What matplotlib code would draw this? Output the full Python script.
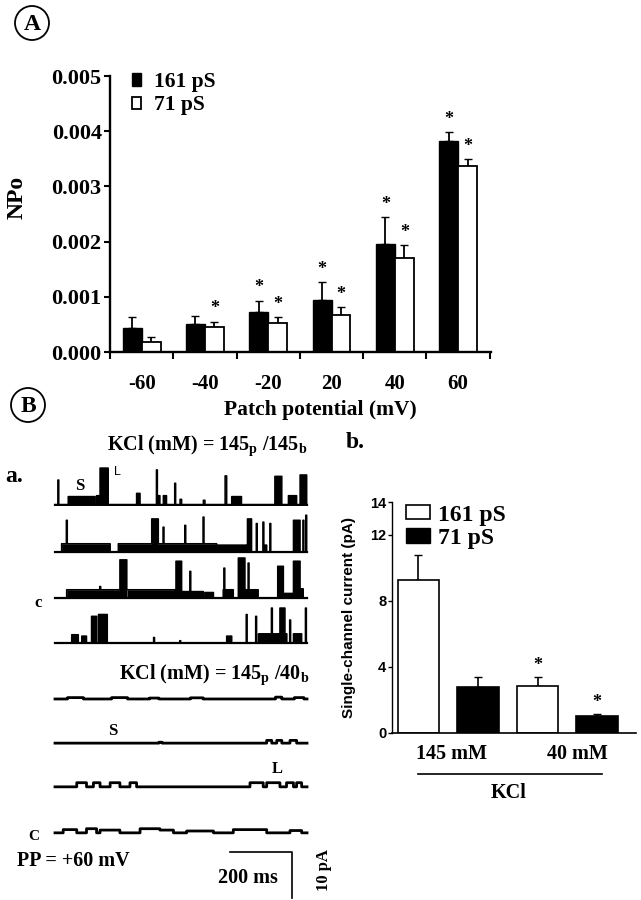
import numpy as np
import matplotlib
matplotlib.use('Agg')
import matplotlib.pyplot as plt

plt.rcParams['font.family'] = ['Liberation Serif', 'DejaVu Serif']
plt.rcParams['font.weight'] = 'bold'
plt.rcParams['mathtext.fontset'] = 'custom'
plt.rcParams['mathtext.rm'] = 'Liberation Serif:bold'
plt.rcParams['mathtext.it'] = 'Liberation Serif:bold'
plt.rcParams['mathtext.bf'] = 'Liberation Serif:bold'

# ---- panel A: NPo vs patch potential
potentials = ['-60', '-40', '-20', '20', '40', '60']
npo_161 = [0.00043, 0.00050, 0.00073, 0.00095, 0.00196, 0.00383]
err_161 = [0.00021, 0.00016, 0.00020, 0.00031, 0.00048, 0.00016]
npo_71 = [0.000175, 0.00045, 0.00053, 0.00067, 0.00171, 0.00337]
err_71 = [0.00010, 0.00010, 0.00010, 0.00014, 0.00023, 0.00012]
star_161 = [False, False, True, True, True, True]
star_71 = [False, True, True, True, True, True]

# ---- panel B b: single-channel current
kcl_groups = ['145 mM', '40 mM']
cur_161 = [9.28, 2.84]
cur_161_err = [1.52, 0.58]
cur_71 = [2.79, 1.02]
cur_71_err = [0.63, 0.14]

# ---- panel B a: single-channel records (ms, ms, pA)
# brief openings drawn as lines, dense flickery bursts drawn filled
t1_open = [(9, 12, 5.4), (322, 325, 7.6), (380, 383, 4.7), (397, 402, 1.2), (471, 476, 1.0), (540, 545, 6.3)]
t1_burst = [(42, 127, 1.8), (132, 143, 2.0), (143, 169, 8.0), (259, 270, 2.5), (323, 333, 2.0), (344, 354, 2.0),
            (561, 592, 1.8), (698, 720, 6.2), (741, 767, 2.0), (778, 799, 6.5)]
t2_open = [(36, 39, 6.9), (343, 346, 5.4), (412, 415, 5.8), (470, 473, 7.6), (639, 642, 6.2), (660, 663, 6.5),
           (682, 685, 6.2), (787, 790, 6.9), (796, 799, 8.0)]
t2_burst = [(21, 175, 1.8), (201, 513, 1.8), (307, 328, 7.2), (513, 608, 1.5), (611, 624, 7.2), (661, 672, 1.5),
            (757, 778, 6.9)]
t3_open = [(142, 145, 2.5), (428, 431, 5.8), (536, 539, 6.5), (613, 616, 7.6)]
t3_burst = [(37, 206, 1.8), (206, 228, 8.3), (228, 381, 1.8), (384, 402, 8.0), (402, 471, 1.4), (476, 503, 1.2),
            (534, 566, 1.8), (582, 603, 8.7), (603, 645, 1.8), (707, 725, 6.9), (725, 757, 1.0), (757, 778, 8.0),
            (778, 788, 2.0)]
t4_open = [(313, 316, 1.2), (396, 399, 0.5), (607, 610, 6.2), (637, 640, 5.8), (687, 690, 7.6), (745, 748, 5.0),
           (795, 798, 7.6)]
t4_burst = [(53, 74, 1.8), (85, 100, 1.5), (116, 132, 5.8), (138, 166, 6.2), (545, 561, 1.5), (646, 736, 2.0),
            (714, 730, 7.6), (757, 783, 2.0)]
t5_open = [(40, 90, 0.3), (180, 230, 0.3), (300, 330, 0.2), (430, 470, 0.25), (700, 720, 0.4), (760, 790, 0.3)]
t6_open = [(330, 340, 0.2), (672, 688, 0.6), (704, 720, 0.6), (746, 767, 0.6)]
t7_open = [(69, 100, 0.9), (122, 143, 0.9), (175, 206, 0.9), (238, 259, 0.9), (619, 661, 0.9), (672, 714, 0.9),
           (735, 757, 0.9), (767, 783, 0.9)]
t8_open = [(26, 69, 0.7), (100, 132, 0.9), (143, 206, 0.6), (270, 333, 0.9), (333, 376, 0.6), (418, 503, 0.4),
           (566, 672, 0.7), (746, 783, 0.5)]

W, H = 641, 900
fig = plt.figure(figsize=(W / 100, H / 100), dpi=100)


def rect(l, t, r, b):
    return [l / W, 1 - b / H, (r - l) / W, (b - t) / H]


def ft(x, y, s, **kw):
    kw.setdefault('ha', 'center')
    kw.setdefault('va', 'center')
    return fig.text(x / W, 1 - y / H, s, **kw)


# ================= A
axA = fig.add_axes(rect(110, 76, 491, 352))
x = np.arange(len(potentials)) + 0.5
bw = 0.3
axA.bar(x - 0.15, npo_161, bw, color='k', edgecolor='k', lw=1, label='161 pS', zorder=2)
axA.bar(x + 0.15, npo_71, bw, color='w', edgecolor='k', lw=1.3, label='71 pS', zorder=2)
axA.errorbar(x - 0.15, npo_161, yerr=[np.zeros(6), err_161], fmt='none', ecolor='k', elinewidth=1.3, capsize=3, zorder=1)
axA.errorbar(x + 0.15, npo_71, yerr=[np.zeros(6), err_71], fmt='none', ecolor='k', elinewidth=1.3, capsize=3, zorder=1)
for i in range(6):
    if star_161[i]:
        axA.annotate('*', (x[i] - 0.15, npo_161[i] + err_161[i]), xytext=(0, 3), textcoords='offset points',
                     ha='center', va='bottom', fontsize=13)
    if star_71[i]:
        axA.annotate('*', (x[i] + 0.15, npo_71[i] + err_71[i]), xytext=(0, 3), textcoords='offset points',
                     ha='center', va='bottom', fontsize=13)
axA.set_xlim(0, 6.02)
axA.set_ylim(0, 0.005)
axA.set_yticks([0, 0.001, 0.002, 0.003, 0.004, 0.005])
axA.set_yticklabels(['0.000', '0.001', '0.002', '0.003', '0.004', '0.005'])
axA.set_xticks(np.arange(7))
axA.set_xticklabels([])
axA.set_xticks(x, minor=True)
axA.set_xticklabels(potentials, minor=True)
axA.tick_params(axis='x', which='major', direction='out', length=5, width=1.5)
axA.tick_params(axis='x', which='minor', length=0, pad=16, labelsize=15)
axA.tick_params(axis='y', direction='out', length=4, width=1.5, labelsize=16, pad=2)
for s in ['top', 'right']:
    axA.spines[s].set_visible(False)
for s in ['left', 'bottom']:
    axA.spines[s].set_linewidth(1.7)
axA.legend(loc='upper left', bbox_to_anchor=(0.035, 1.045), frameon=False, fontsize=15.5,
           handlelength=0.42, handleheight=0.5, handletextpad=0.6, labelspacing=0.15, borderaxespad=0)
ft(320, 410, 'Patch potential (mV)', fontsize=15.5)
ft(17, 197, 'NPo', fontsize=17, rotation=90)

# circled panel letters
for cx, cy, lab in [(32, 23, 'A'), (28, 405, 'B')]:
    fig.patches.append(matplotlib.patches.Ellipse((cx / W, 1 - cy / H), 34 / W, 34 / H, fill=False,
                                                  lw=1.3, ec='k', transform=fig.transFigure))
    ft(cx, cy + 1, lab, fontsize=17)

# ================= B a (records)
axT = fig.add_axes(rect(0, 440, 330, 900))
axT.set_xlim(-174.6, 873)
axT.set_ylim(0, 100)
axT.axis('off')
t = np.arange(0, 800.5, 0.5)


def level(events):
    y = np.zeros_like(t)
    for a, b, amp in events:
        m = (t >= a) & (t < b)
        y[m] = np.maximum(y[m], amp)
    return y


top_rows = [(85.9, t1_open, t1_burst), (75.65, t2_open, t2_burst), (65.65, t3_open, t3_burst), (55.87, t4_open, t4_burst)]
for base, op, bu in top_rows:
    y = level(op + bu)
    axT.plot(t, base + y, color='k', lw=1.1, drawstyle='steps-post')
    for a, b, amp in bu:
        m = (t >= a) & (t <= b)
        axT.fill_between(t, base, base + amp, where=m, color='k', lw=0, step='post')
    axT.plot(t, np.full_like(t, base), color='k', lw=1.6)

for base, op in [(43.7, t5_open), (34.1, t6_open), (24.6, t7_open), (14.6, t8_open)]:
    axT.plot(t, base + level(op), color='k', lw=2.0, drawstyle='steps-post')

# scale bar 200 ms / 10 pA
axT.plot([556, 752, 752], [10.4, 10.4, 0.4], color='k', lw=1.2)

ft(14, 477, 'a.', fontsize=17)
ft(207, 446, r'KCl (mM) = 145$_\mathrm{p}$ /145$_\mathrm{b}$', fontsize=14.5)
ft(80, 486, 'S', fontsize=12)
ft(117, 472, 'L', fontsize=9, weight='normal', family=['Liberation Sans'])
ft(38, 603, 'c', fontsize=12)
ft(214, 675, r'KCl (mM) = 145$_\mathrm{p}$ /40$_\mathrm{b}$', fontsize=14.5)
ft(113, 731, 'S', fontsize=12)
ft(277, 769, 'L', fontsize=12)
ft(34, 837, 'C', fontsize=11)
ft(73, 861, 'PP = +60 mV', fontsize=14.5)
ft(248, 878, '200 ms', fontsize=14.5)
ft(324, 870, '10 pA', fontsize=12, rotation=90)

# ================= B b (current bars)
axB = fig.add_axes(rect(392, 502, 636, 733))
xb = np.arange(4)
vals = [cur_161[0], cur_71[0], cur_161[1], cur_71[1]]
errs = [cur_161_err[0], cur_71_err[0], cur_161_err[1], cur_71_err[1]]
cols = ['w', 'k', 'w', 'k']
axB.bar(xb, vals, 0.69, color=cols, edgecolor='k', lw=1.2, zorder=2)
axB.errorbar(xb, vals, yerr=[np.zeros(4), errs], fmt='none', ecolor='k', elinewidth=1.2, capsize=3, zorder=1)
for i in [2, 3]:
    axB.annotate('*', (xb[i], vals[i] + errs[i]), xytext=(0, 2), textcoords='offset points',
                 ha='center', va='bottom', fontsize=13)
axB.set_xlim(-0.445, 3.655)
axB.set_ylim(0, 14)
axB.set_yticks([0, 4, 8, 12, 14])
axB.set_xticks([])
axB.tick_params(axis='y', direction='out', length=3, width=1, labelsize=10.5, pad=1)
for lab in axB.get_yticklabels():
    lab.set_family(['Liberation Sans'])
for s in ['top', 'right']:
    axB.spines[s].set_visible(False)
axB.spines['left'].set_linewidth(1.0)
axB.spines['bottom'].set_linewidth(1.2)
hw = matplotlib.patches.Patch(facecolor='w', edgecolor='k', lw=1.2, label='161 pS')
hk = matplotlib.patches.Patch(facecolor='k', edgecolor='k', label='71 pS')
axB.legend(handles=[hw, hk], loc='upper left', bbox_to_anchor=(0.02, 1.03), frameon=False, fontsize=17,
           handlelength=1.0, handleheight=0.55, handletextpad=0.35, labelspacing=0.1, borderaxespad=0)
ft(355, 443, 'b.', fontsize=17)
ft(349, 618, 'Single-channel current (pA)', fontsize=11, rotation=90, family=['Liberation Sans'])
ft(452, 754, kcl_groups[0], fontsize=14.5)
ft(577, 754, kcl_groups[1], fontsize=14.5)
fig.add_artist(matplotlib.lines.Line2D([418 / W, 602 / W], [1 - 774 / H, 1 - 774 / H], color='k', lw=1.2))
ft(509, 793, 'KCl', fontsize=14.5)

fig.savefig('out.png', dpi=100)
